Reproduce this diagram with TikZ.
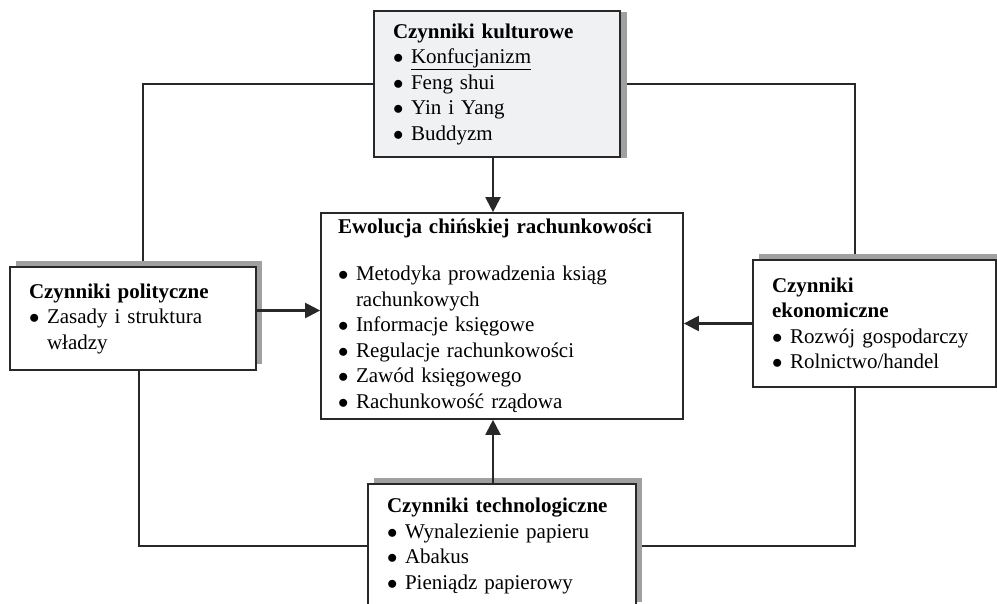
\documentclass[tikz,border=0pt]{standalone}
\usepackage{fontspec}
\setmainfont{Liberation Serif}
\usetikzlibrary{positioning, calc, shadows, arrows.meta}

\definecolor{tlo}{RGB}{240,241,243}
\definecolor{cien}{RGB}{160,160,160}
\definecolor{kreska}{RGB}{40,40,40}

\pgfdeclarelayer{background}
\pgfsetlayers{background,main}

\begin{document}
\begin{tikzpicture}[x=1pt, y=-1pt,
      pudelko/.style={draw=kreska, line width=1.7pt, fill=white, align=left,
        inner xsep=19pt, inner ysep=0pt, font=\fontsize{21}{25.5}\selectfont},
      cienD/.style={drop shadow={shadow xshift=6pt, shadow yshift=6pt, fill=cien, opacity=1}},
      cienG/.style={drop shadow={shadow xshift=7pt, shadow yshift=-1pt, fill=cien, opacity=1}},
      polaczenie/.style={draw=kreska, line width=2pt},
      strzalka/.style={draw=kreska, line width=2.2pt, -{Triangle[length=15pt, width=15pt]}}
  ]

  \newcommand{\pkt}{\makebox[18pt][l]{$\bullet$}}

  \path[use as bounding box, clip] (0,0) rectangle (997,604);

  % czynniki i srodek
  \node[pudelko, cienG, fill=tlo, minimum width=246pt, minimum height=146pt, text width=208pt]
    (kult) at (497,84)
    {\textbf{Czynniki kulturowe}\\ \pkt\underline{Konfucjanizm}\\ \pkt Feng shui\\ \pkt Yin i Yang\\ \pkt Buddyzm};

  \node[pudelko, inner xsep=17pt, minimum width=362pt, minimum height=206pt, text width=328pt]
    (ewol) at (502,316)
    {\textbf{Ewolucja chińskiej rachunkowości}\\[21.5pt]
     \pkt Metodyka prowadzenia ksiąg\\ \hspace*{18pt}rachunkowych\\
     \pkt Informacje księgowe\\ \pkt Regulacje rachunkowości\\
     \pkt Zawód księgowego\\ \pkt Rachunkowość rządowa};

  \node[pudelko, cienD, minimum width=246pt, minimum height=103pt, text width=208pt]
    (polit) at (133,318.5)
    {\textbf{Czynniki polityczne}\\ \pkt Zasady i struktura\\ \hspace*{18pt}władzy};

  \node[pudelko, cienD, minimum width=243pt, minimum height=127pt, text width=205pt]
    (ekon) at (874.5,323.5)
    {\textbf{Czynniki}\\ \textbf{ekonomiczne}\\ \pkt Rozwój gospodarczy\\ \pkt Rolnictwo/handel};

  \node[pudelko, cienD, minimum width=268pt, minimum height=124pt, text width=230pt]
    (tech) at (502,546)
    {\textbf{Czynniki technologiczne}\\ \pkt Wynalezienie papieru\\ \pkt Abakus\\ \pkt Pieniądz papierowy};

  % narozniki linii
  \coordinate (rogLG) at (143,84);
  \coordinate (rogPG) at (855,84);
  \coordinate (rogLD) at (139,546);
  \coordinate (rogPD) at (855,546);

  \begin{pgfonlayer}{background}
    \draw[polaczenie] (kult.west) -- (rogLG) -- (rogLG |- polit.north);
    \draw[polaczenie] (kult.east) -- (rogPG) -- (rogPG |- ekon.north);
    \draw[polaczenie] (rogLD |- polit.south) -- (rogLD) -- (tech.west);
    \draw[polaczenie] (rogPD |- ekon.south) -- (rogPD) -- (tech.east);
  \end{pgfonlayer}

  % strzalki do srodka
  \draw[strzalka] ([xshift=-4pt]kult.south) -- ([xshift=-4pt]kult.south |- ewol.north);
  \draw[strzalka] ([xshift=-4pt]kult.south |- tech.north) -- ([xshift=-4pt]kult.south |- ewol.south);
  \draw[strzalka] ([yshift=8pt]polit.east) -- ([yshift=8pt]polit.east -| ewol.west);
  \draw[strzalka] (ekon.west) -- (ekon.west -| ewol.east);
\end{tikzpicture}
\end{document}
